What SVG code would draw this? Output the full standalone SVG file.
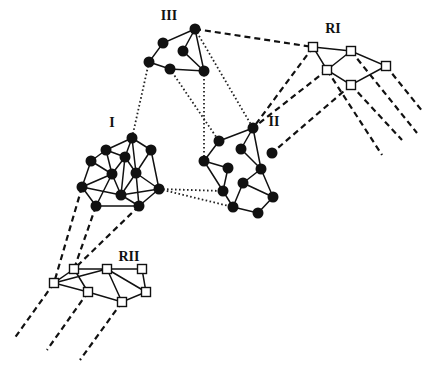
<svg xmlns="http://www.w3.org/2000/svg" width="425" height="367" viewBox="0 0 425 367">
  <style>
    .edge { stroke: #111; stroke-width: 1.5; fill: none; }
    .dash { stroke: #111; stroke-width: 2.2; stroke-dasharray: 6 4; fill: none; }
    .dot { stroke: #222; stroke-width: 1.8; stroke-dasharray: 1.6 2.4; fill: none; }
    .agent { fill: #111; }
    .res { fill: #fff; stroke: #111; stroke-width: 1.4; }
    .lbl { font-family: "Liberation Serif", "Times New Roman", serif; font-size: 14px; font-weight: bold; fill: #111; text-anchor: middle; }
  </style>
  <defs>
    <circle id="dotnode" r="5.5" class="agent"/>
    <rect id="sqnode" x="-4.5" y="-4.5" width="9" height="9" class="res"/>
  </defs>
  <rect width="425" height="367" fill="#fff"/>

  <!-- links between clusters -->
  <g id="connectors">
    <!-- dotted links -->
    <path class="dot" d="M149 62 L132 138"/>
    <path class="dot" d="M170 69 L219 141"/>
    <path class="dot" d="M204 71 L204 161"/>
    <path class="dot" d="M195 29 L253 128"/>
    <path class="dot" d="M159 189 L223 191"/>
    <path class="dot" d="M159 189 L233 207"/>
    <!-- dashed links -->
    <path class="dash" d="M195 29 L313 47"/>
    <path class="dash" d="M313 47 L253 128"/>
    <path class="dash" d="M327 70 L253 128"/>
    <path class="dash" d="M351 85 L272 153"/>
    <path class="dash" d="M327 70 L382 155"/>
    <path class="dash" d="M351 85 L402 140"/>
    <path class="dash" d="M351 51 L417 133"/>
    <path class="dash" d="M386 66 L423 112"/>
    <path class="dash" d="M82 187 L54 283"/>
    <path class="dash" d="M96 206 L74 269"/>
    <path class="dash" d="M139 206 L74 269"/>
    <path class="dash" d="M54 283 L14 339"/>
    <path class="dash" d="M88 292 L47 350"/>
    <path class="dash" d="M122 302 L80 360"/>
  </g>

  <!-- cluster III -->
  <g id="cluster-III">
    <path class="edge" d="M195 29 L163 43 L149 62 L170 69 L204 71 Z M195 29 L183 51 L204 71"/>
    <use href="#dotnode" x="195" y="29"/>
    <use href="#dotnode" x="163" y="43"/>
    <use href="#dotnode" x="183" y="51"/>
    <use href="#dotnode" x="149" y="62"/>
    <use href="#dotnode" x="170" y="69"/>
    <use href="#dotnode" x="204" y="71"/>
    <text class="lbl" x="169" y="20" font-size="15">III</text>
  </g>

  <!-- cluster I -->
  <g id="cluster-I">
    <path class="edge" d="
      M132 138 L106 150 M132 138 L151 150 M132 138 L125 157 M132 138 L136 173
      M151 150 L159 189 M151 150 L136 173
      M106 150 L91 161 M106 150 L125 157 M106 150 L112 174
      M91 161 L112 174 M91 161 L82 187
      M125 157 L112 174 M125 157 L136 173 M125 157 L121 195
      M112 174 L82 187 M112 174 L121 195 M112 174 L96 206
      M136 173 L159 189 M136 173 L121 195 M136 173 L139 206
      M82 187 L96 206 M82 187 L121 195
      M159 189 L121 195 M159 189 L139 206
      M96 206 L139 206 M121 195 L139 206"/>
    <use href="#dotnode" x="132" y="138"/>
    <use href="#dotnode" x="106" y="150"/>
    <use href="#dotnode" x="151" y="150"/>
    <use href="#dotnode" x="91" y="161"/>
    <use href="#dotnode" x="125" y="157"/>
    <use href="#dotnode" x="112" y="174"/>
    <use href="#dotnode" x="136" y="173"/>
    <use href="#dotnode" x="82" y="187"/>
    <use href="#dotnode" x="159" y="189"/>
    <use href="#dotnode" x="121" y="195"/>
    <use href="#dotnode" x="96" y="206"/>
    <use href="#dotnode" x="139" y="206"/>
    <text class="lbl" x="112" y="127">I</text>
  </g>

  <!-- cluster II -->
  <g id="cluster-II">
    <path class="edge" d="
      M253 128 L219 141 M253 128 L241 149 M253 128 L261 169 M241 149 L261 169
      M219 141 L204 161 M204 161 L228 168 M204 161 L223 191 M228 168 L223 191
      M223 191 L233 207 M261 169 L243 183 M261 169 L273 197 M243 183 L273 197
      M243 183 L233 207 M233 207 L258 213 M258 213 L273 197"/>
    <use href="#dotnode" x="253" y="128"/>
    <use href="#dotnode" x="219" y="141"/>
    <use href="#dotnode" x="241" y="149"/>
    <use href="#dotnode" x="272" y="153"/>
    <use href="#dotnode" x="204" y="161"/>
    <use href="#dotnode" x="228" y="168"/>
    <use href="#dotnode" x="261" y="169"/>
    <use href="#dotnode" x="243" y="183"/>
    <use href="#dotnode" x="223" y="191"/>
    <use href="#dotnode" x="273" y="197"/>
    <use href="#dotnode" x="233" y="207"/>
    <use href="#dotnode" x="258" y="213"/>
    <text class="lbl" x="274" y="126">II</text>
  </g>

  <!-- resource group RI -->
  <g id="cluster-RI">
    <path class="edge" d="M313 47 L351 51 L386 66 L351 85 L327 70 Z M327 70 L351 51"/>
    <use href="#sqnode" x="313" y="47"/>
    <use href="#sqnode" x="351" y="51"/>
    <use href="#sqnode" x="386" y="66"/>
    <use href="#sqnode" x="327" y="70"/>
    <use href="#sqnode" x="351" y="85"/>
    <text class="lbl" x="333" y="33" font-size="12">RI</text>
  </g>

  <!-- resource group RII -->
  <g id="cluster-RII">
    <path class="edge" d="
      M74 269 L107 269 L142 269 L146 292 L122 302 L88 292 L54 283 L74 269
      M54 283 L107 269 M74 269 L88 292 M107 269 L122 302 M107 269 L146 292"/>
    <use href="#sqnode" x="74" y="269"/>
    <use href="#sqnode" x="107" y="269"/>
    <use href="#sqnode" x="142" y="269"/>
    <use href="#sqnode" x="54" y="283"/>
    <use href="#sqnode" x="88" y="292"/>
    <use href="#sqnode" x="146" y="292"/>
    <use href="#sqnode" x="122" y="302"/>
    <text class="lbl" x="129" y="261" font-size="12">RII</text>
  </g>
</svg>
